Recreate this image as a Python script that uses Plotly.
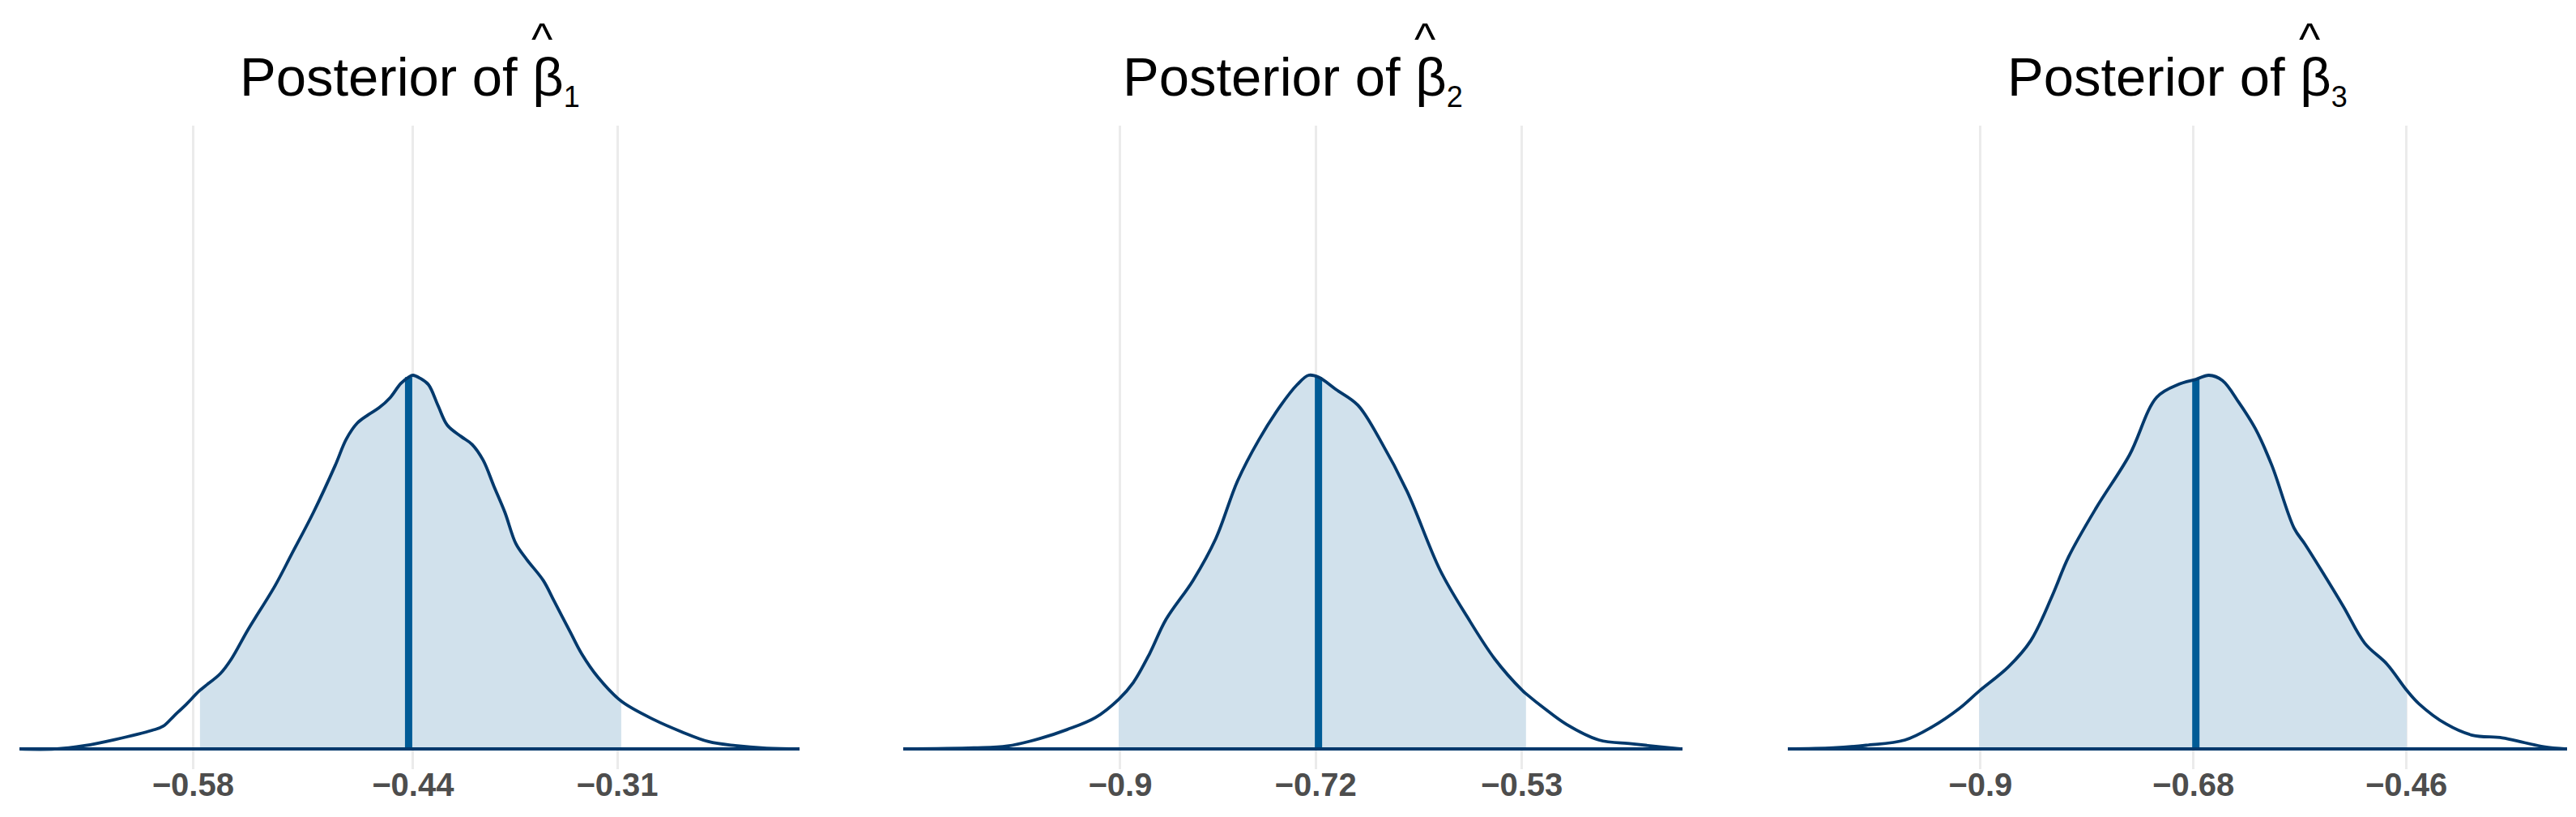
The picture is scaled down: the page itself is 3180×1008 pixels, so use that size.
import plotly.graph_objects as go

# =============================================================================
# DATA (posterior densities, peak scaled to 1)
# =============================================================================

PARAMS = ["1", "2", "3"]

B1_X = [-0.6905, -0.668, -0.649, -0.630, -0.606, -0.599, -0.592, -0.584,
        -0.5756, -0.5626, -0.5556, -0.5452, -0.5278, -0.5173, -0.5034,
        -0.4895, -0.4825, -0.4755, -0.4686, -0.4616, -0.4546, -0.4478,
        -0.4428, -0.440, -0.4355, -0.4302, -0.424, -0.4181, -0.4093,
        -0.4024, -0.3954, -0.3885, -0.3815, -0.3745, -0.3676, -0.3571,
        -0.3501, -0.3397, -0.3327, -0.3223, -0.3075, -0.2864, -0.269,
        -0.252, -0.235, -0.215, -0.194]
B1_D = [0.0, 0.0, 0.009, 0.025, 0.050, 0.061, 0.089, 0.121,
        0.157, 0.202, 0.241, 0.318, 0.437, 0.521, 0.633,
        0.759, 0.829, 0.872, 0.894, 0.913, 0.940, 0.978,
        0.995, 1.0, 0.992, 0.975, 0.918, 0.866, 0.836,
        0.815, 0.773, 0.703, 0.633, 0.549, 0.507, 0.451,
        0.395, 0.311, 0.255, 0.192, 0.128, 0.078, 0.046,
        0.020, 0.009, 0.002, 0.0]

B2_X = [-1.100, -1.035, -1.004, -0.974, -0.949, -0.923, -0.9015, -0.888,
        -0.873, -0.858, -0.833, -0.812, -0.792, -0.772, -0.752, -0.737,
        -0.7265, -0.7174, -0.7013, -0.6811, -0.661, -0.6357, -0.6054,
        -0.5802, -0.555, -0.5297, -0.5262, -0.509, -0.489, -0.459, -0.429,
        -0.403, -0.382]
B2_D = [0.0, 0.003, 0.008, 0.028, 0.052, 0.084, 0.133, 0.178,
        0.255, 0.346, 0.451, 0.563, 0.717, 0.829, 0.920, 0.975,
        1.0, 0.995, 0.962, 0.920, 0.829, 0.689, 0.479,
        0.353, 0.241, 0.157, 0.148, 0.108, 0.066, 0.024, 0.014,
        0.006, 0.0]

B3_X = [-1.099, -1.052, -1.018, -0.978, -0.950, -0.922, -0.9013, -0.871,
        -0.848, -0.826, -0.809, -0.780, -0.746, -0.718, -0.695, -0.6775,
        -0.664, -0.650, -0.633, -0.616, -0.599, -0.576, -0.565, -0.548,
        -0.525, -0.503, -0.480, -0.4596, -0.447, -0.419, -0.392, -0.361,
        -0.338, -0.318, -0.294]
B3_D = [0.0, 0.003, 0.010, 0.024, 0.059, 0.108, 0.155, 0.220,
        0.290, 0.409, 0.514, 0.647, 0.787, 0.941, 0.976, 0.989,
        1.0, 0.986, 0.927, 0.857, 0.759, 0.591, 0.549, 0.479,
        0.381, 0.283, 0.227, 0.157, 0.121, 0.067, 0.037, 0.030,
        0.017, 0.006, 0.0]

DENS_X = [B1_X, B2_X, B3_X]
DENS_D = [B1_D, B2_D, B3_D]

# central interval and median
INT_LO = [-0.5756, -0.9015, -0.9013]
INT_HI = [-0.3075, -0.5262, -0.4596]
MEDIAN = [-0.4428, -0.7174, -0.6775]

TICK_VALS = [[-0.58, -0.44, -0.31], [-0.9, -0.72, -0.53], [-0.9, -0.68, -0.46]]
TICK_TEXT = [["\u22120.58", "\u22120.44", "\u22120.31"],
             ["\u22120.9", "\u22120.72", "\u22120.53"],
             ["\u22120.9", "\u22120.68", "\u22120.46"]]

# =============================================================================
# STYLE
# =============================================================================

W, H = 3180, 1008
DOMAINS_PX = [(16, 979), (1107, 2069), (2199, 3161)]

FILL_COLOR = "#d1e1ec"
OUTLINE_COLOR = "#03396c"
MEDIAN_COLOR = "#005b96"
GRID_COLOR = "#ebebeb"

fig = go.Figure()
annotations = []

for i in range(3):
    xs = DENS_X[i]
    ds = DENS_D[i]
    suffix = "" if i == 0 else str(i + 1)
    xref = "x" + suffix
    yref = "y" + suffix

    # shaded central interval
    shade_x = [x for x in xs if INT_LO[i] <= x <= INT_HI[i]]
    shade_d = [d for x, d in zip(xs, ds) if INT_LO[i] <= x <= INT_HI[i]]
    fig.add_trace(go.Scatter(
        x=shade_x, y=shade_d, mode="lines", fill="tozeroy",
        fillcolor=FILL_COLOR, line=dict(width=0, shape="spline", smoothing=1.0),
        xaxis=xref, yaxis=yref, hoverinfo="skip", showlegend=False,
    ))

    # median line
    med_d = ds[xs.index(MEDIAN[i])]
    fig.add_trace(go.Scatter(
        x=[MEDIAN[i], MEDIAN[i]], y=[0, med_d], mode="lines",
        line=dict(color=MEDIAN_COLOR, width=9),
        xaxis=xref, yaxis=yref, hoverinfo="skip", showlegend=False,
    ))

    # density outline
    fig.add_trace(go.Scatter(
        x=xs, y=ds, mode="lines",
        line=dict(color=OUTLINE_COLOR, width=3.8, shape="spline", smoothing=1.0),
        xaxis=xref, yaxis=yref, hoverinfo="skip", showlegend=False,
    ))

    # baseline
    fig.add_trace(go.Scatter(
        x=[xs[0], xs[-1]], y=[0, 0], mode="lines",
        line=dict(color=OUTLINE_COLOR, width=4),
        xaxis=xref, yaxis=yref, hoverinfo="skip", showlegend=False,
    ))

    x0, x1 = DOMAINS_PX[i]
    fig.layout["xaxis" + suffix] = dict(
        domain=[x0 / W, x1 / W],
        range=[xs[0], xs[-1]],
        tickvals=TICK_VALS[i],
        ticktext=TICK_TEXT[i],
        tickfont=dict(family="Liberation Sans, Arial", size=40,
                      color="#4d4d4d", weight="bold"),
        ticklabelstandoff=-8,
        showgrid=True, gridcolor=GRID_COLOR, gridwidth=3,
        zeroline=False, showline=False, ticks="",
        anchor=yref, fixedrange=True,
    )
    fig.layout["yaxis" + suffix] = dict(
        range=[-0.054, 1.668],
        visible=False, showgrid=False, zeroline=False,
        anchor=xref, fixedrange=True,
    )

    center = (x0 + x1) / 2 / W
    annotations.append(dict(
        text=("Posterior of \u03b2<sub><span style=\"font-size:36px\">"
              + PARAMS[i] + "</span></sub>"),
        x=center, y=1, xref="paper", yref="paper",
        xanchor="center", yanchor="top", yshift=100,
        showarrow=False,
        font=dict(family="Liberation Sans, Arial", size=67, color="black"),
    ))
    annotations.append(dict(
        text="^",
        x=center, y=1, xref="paper", yref="paper",
        xanchor="center", yanchor="top", yshift=141, xshift=163,
        showarrow=False,
        font=dict(family="Liberation Sans, Arial", size=56, color="black"),
    ))

fig.update_layout(
    width=W, height=H,
    paper_bgcolor="white", plot_bgcolor="white",
    margin=dict(l=0, r=0, t=147, b=67),
    annotations=annotations,
    showlegend=False,
)

fig.write_html("out.html")
